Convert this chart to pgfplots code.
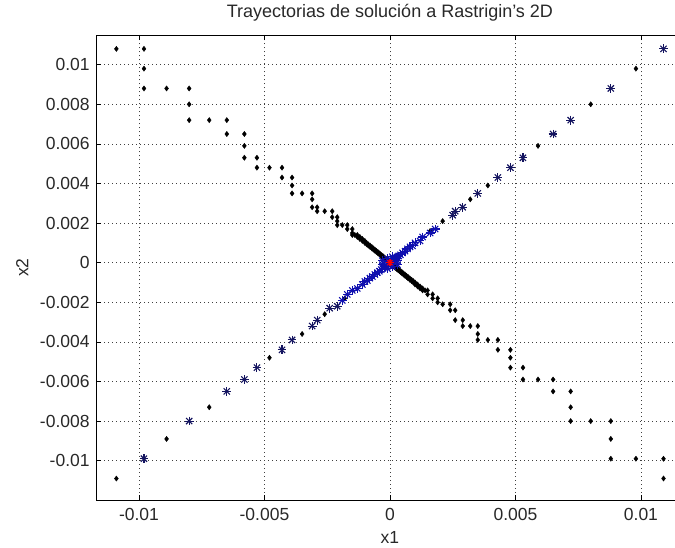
\documentclass[border=0pt]{standalone}
\usepackage{pgfplots}
\pgfplotsset{compat=1.18}
\usepackage{pgfplotstable}
\usepackage{fontspec}
\setmainfont{Liberation Sans}

\definecolor{starnavy}{RGB}{20,20,95}
\definecolor{starblue}{RGB}{15,15,175}
\definecolor{txt}{RGB}{40,40,40}

% black points: coordinate-wise trajectories
\pgfplotstableread{
x y
-0.0109 0.0108
-0.0098 0.0108
-0.0098 0.0098
-0.0098 0.0088
-0.0089 0.0088
-0.0080 0.0088
-0.0080 0.0080
-0.0080 0.0072
-0.0072 0.0072
-0.0065 0.0072
-0.0065 0.0065
-0.0058 0.0065
-0.0058 0.0059
-0.0058 0.0053
-0.0053 0.0053
-0.0053 0.0048
-0.0048 0.0048
-0.0043 0.0048
-0.0043 0.0043
-0.0039 0.0043
-0.0039 0.0039
-0.0039 0.0035
-0.0035 0.0035
-0.0031 0.0035
-0.0031 0.0032
-0.0031 0.0028
-0.0029 0.0028
-0.0029 0.0026
-0.0026 0.0026
-0.0023 0.0026
-0.0023 0.0023
-0.0021 0.0023
-0.0021 0.0021
-0.0021 0.0019
-0.0019 0.0019
-0.0017 0.0019
-0.0017 0.0017
-0.0015 0.0017
-0.0015 0.0015
-0.0015 0.0014
-0.0014 0.0014
-0.0013 0.0014
-0.0013 0.0013
-0.0012 0.0013
-0.0012 0.0012
-0.0011 0.0012
-0.0011 0.0011
-0.0010 0.0011
-0.0010 0.0010
-0.00093 0.0010
-0.00093 0.00093
-0.00086 0.00093
-0.00086 0.00086
-0.00079 0.00086
-0.00079 0.00079
-0.00072 0.00079
-0.00072 0.00072
-0.00066 0.00072
-0.00066 0.00066
-0.00060 0.00066
-0.00060 0.00060
-0.00054 0.00060
-0.00054 0.00054
-0.00048 0.00054
-0.00048 0.00048
-0.00043 0.00048
-0.00043 0.00043
-0.00038 0.00043
-0.00038 0.00038
-0.00033 0.00038
-0.00033 0.00033
-0.00028 0.00033
-0.00028 0.00028
-0.00024 0.00028
-0.00024 0.00024
-0.00020 0.00024
-0.00020 0.00020
-0.00016 0.00020
-0.00016 0.00016
-0.00012 0.00016
-0.00012 0.00012
-0.00008 0.00012
-0.00008 0.00008
-0.00004 0.00008
-0.00004 0.00004
0.0109 -0.0109
0.0109 -0.0099
0.0098 -0.0099
0.0088 -0.0099
0.0088 -0.0089
0.0088 -0.0080
0.0080 -0.0080
0.0072 -0.0080
0.0072 -0.0073
0.0072 -0.0065
0.0065 -0.0065
0.0065 -0.0059
0.0059 -0.0059
0.0053 -0.0059
0.0053 -0.0053
0.0048 -0.0053
0.0048 -0.0048
0.0048 -0.0044
0.0043 -0.0044
0.0043 -0.0039
0.0039 -0.0039
0.0035 -0.0039
0.0035 -0.0036
0.0035 -0.0032
0.0032 -0.0032
0.0029 -0.0032
0.0029 -0.0029
0.0026 -0.0029
0.0026 -0.0024
0.0024 -0.0024
0.0024 -0.0021
0.0021 -0.0021
0.0019 -0.0020
0.0019 -0.0018
0.0017 -0.0018
0.0017 -0.0016
0.0015 -0.0016
0.0015 -0.0014
0.0014 -0.0014
0.0013 -0.0014
0.0013 -0.0013
0.0012 -0.0013
0.0012 -0.0012
0.0011 -0.0012
0.0011 -0.0011
0.0010 -0.0011
0.0010 -0.0010
0.00093 -0.0010
0.00093 -0.00093
0.00086 -0.00093
0.00086 -0.00086
0.00079 -0.00086
0.00079 -0.00079
0.00072 -0.00079
0.00072 -0.00072
0.00066 -0.00072
0.00066 -0.00066
0.00060 -0.00066
0.00060 -0.00060
0.00054 -0.00060
0.00054 -0.00054
0.00048 -0.00054
0.00048 -0.00048
0.00043 -0.00048
0.00043 -0.00043
0.00038 -0.00043
0.00038 -0.00038
0.00033 -0.00038
0.00033 -0.00033
0.00028 -0.00033
0.00028 -0.00028
0.00024 -0.00028
0.00024 -0.00024
0.00020 -0.00024
0.00020 -0.00020
0.00016 -0.00020
0.00016 -0.00016
0.00012 -0.00016
0.00012 -0.00012
0.00008 -0.00012
0.00008 -0.00008
0.00004 -0.00008
0.00004 -0.00004
0.0098 0.0098
0.0080 0.0080
0.0059 0.0059
0.0039 0.0039
0.0032 0.0032
0.0021 0.0021
0.0016 0.0016
-0.0109 -0.0109
-0.0089 -0.0089
-0.0072 -0.0073
-0.0048 -0.0048
-0.0035 -0.0036
-0.0026 -0.0026
-0.0018 -0.0018
}\pathk

% star points, outer part of the diagonal
\pgfplotstableread{
x y
0.0109 0.0108
0.0088 0.0088
0.0072 0.0072
0.0065 0.0065
0.0053 0.0053
0.0048 0.0048
0.0043 0.0043
0.0035 0.0035
0.0029 0.0028
0.0026 0.0026
0.0025 0.0024
-0.0098 -0.0099
-0.0080 -0.0080
-0.0065 -0.0065
-0.0058 -0.0059
-0.0053 -0.0053
-0.0043 -0.0044
-0.0039 -0.0039
-0.0031 -0.0032
-0.0029 -0.0029
-0.0024 -0.0023
-0.0021 -0.0022
}\starsout

% star points close to the minimum
\pgfplotstableread{
x y
0.0018 0.0017
0.0016 0.0015
0.0013 0.0013
0.0012 0.0011
0.0010 0.0010
0.0009 0.00085
0.0008 0.0008
0.0007 0.0007
0.0006 0.00058
0.0005 0.0005
0.00042 0.0004
0.00035 0.00034
0.00028 0.00028
0.0002 0.0002
0.00014 0.00013
0.00008 0.00008
-0.0019 -0.0019
-0.0017 -0.0016
-0.0015 -0.0014
-0.0013 -0.0013
-0.0011 -0.0011
-0.0010 -0.00095
-0.0009 -0.0009
-0.0008 -0.00078
-0.0007 -0.0007
-0.0006 -0.0006
-0.0005 -0.0005
-0.00042 -0.00043
-0.00035 -0.00035
-0.00028 -0.00028
-0.0002 -0.0002
-0.00014 -0.00014
-0.00008 -0.00008
0.0003 0.0001
0.0001 0.0003
-0.0003 -0.0001
-0.0001 -0.0003
0.0003 -0.0001
-0.0003 0.0001
0.0001 -0.0002
-0.0001 0.0002
0 0
}\starsin

\pgfplotstableread{
x y
0 0
}\best

\begin{document}
\begin{tikzpicture}
\begin{axis}[
  scale only axis,
  width=587.3bp, height=465.3bp,
  xmin=-0.0117, xmax=0.0117,
  ymin=-0.012, ymax=0.0115,
  scaled x ticks=false, scaled y ticks=false,
  xtick={-0.01,-0.005,0,0.005,0.01},
  xticklabels={-0.01,-0.005,0,0.005,0.01},
  ytick={-0.01,-0.008,-0.006,-0.004,-0.002,0,0.002,0.004,0.006,0.008,0.01},
  yticklabels={-0.01,-0.008,-0.006,-0.004,-0.002,0,0.002,0.004,0.006,0.008,0.01},
  tick align=inside,
  major tick length=5bp,
  every tick/.style={black, line width=0.7bp},
  axis line style={black, line width=0.9bp},
  grid=major,
  major grid style={black!75, line width=0.7bp, dash pattern=on 0.8bp off 3.2bp},
  tick label style={font=\fontsize{17.5bp}{20bp}\selectfont, text=txt},
  xticklabel style={anchor=base, inner sep=0pt, yshift=-20.5bp},
  yticklabel style={anchor=east, inner sep=0pt, xshift=-6.5bp},
  title={Trayectorias de solución a Rastrigin's 2D},
  title style={at={(rel axis cs:0.5,1)}, anchor=base, yshift=11.5bp, inner sep=0pt,
    font=\fontsize{18bp}{21bp}\selectfont, text=txt},
  xlabel={x1},
  every axis x label/.style={at={(rel axis cs:0.5,0)}, anchor=base, yshift=-43.5bp,
    inner sep=0pt, font=\fontsize{17.5bp}{20bp}\selectfont, text=txt},
  ylabel={x2},
  every axis y label/.style={at={(rel axis cs:-0.126,0.5)}, rotate=90, anchor=center,
    inner sep=0pt, font=\fontsize{17.5bp}{20bp}\selectfont, text=txt},
]
\addplot[only marks, mark=diamond*, mark size=2.6bp, black] table {\pathk};
\addplot[only marks, mark=+, mark size=4.4bp, line width=1.1bp, starnavy] table {\starsout};
\addplot[only marks, mark=x, mark size=4.4bp, line width=1.1bp, starnavy] table {\starsout};
\addplot[only marks, mark=+, mark size=4.4bp, line width=1.1bp, starblue] table {\starsin};
\addplot[only marks, mark=x, mark size=4.4bp, line width=1.1bp, starblue] table {\starsin};
\addplot[only marks, mark=+, mark size=3.6bp, line width=1.1bp, red] table {\best};
\addplot[only marks, mark=x, mark size=3.6bp, line width=1.1bp, red] table {\best};
\end{axis}
\pgfresetboundingbox
\useasboundingbox ([shift={(-96.3bp,-47.7bp)}]current axis.south west)
  rectangle ([shift={(578.7bp,35bp)}]current axis.north west);
\end{tikzpicture}
\end{document}
